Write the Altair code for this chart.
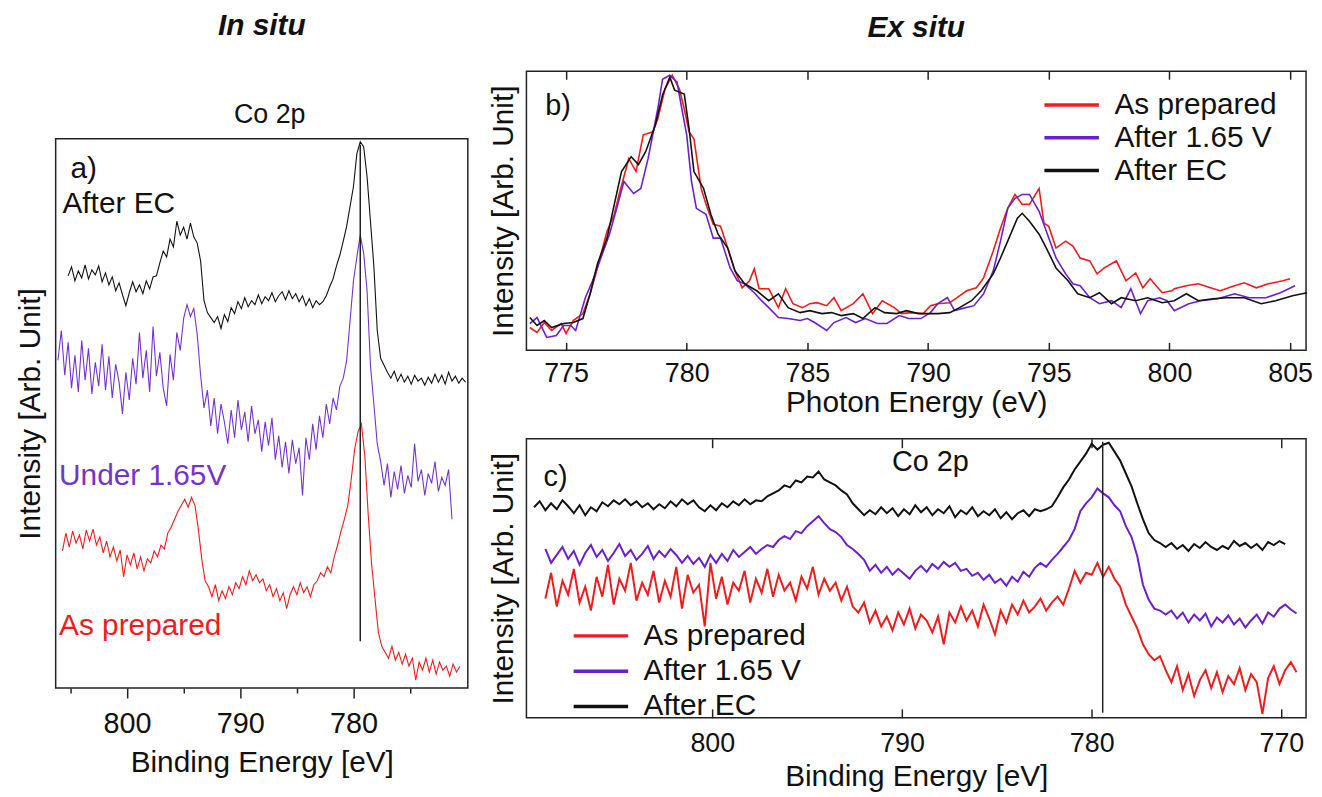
import altair as alt
import numpy as np
import pandas as pd

FONT = "Liberation Sans"
RED = "#f01c1c"
PURPLE = "#6a1fd0"
A_PURPLE = "#7434cc"
BLACK = "#111111"
FRAME = "#222222"

# ---------------- panel a : in situ, Co 2p (evenly sampled, 0.3 eV) ----------------
A_STEP = 0.3
A_SERIES = ["As prepared", "Under 1.65V", "After EC"]
A_COLORS = [RED, A_PURPLE, BLACK]
A_STARTS = [805.7, 806.1, 805.2]
A_RED = [13.8, 15.6, 14.2, 15.8, 14.6, 15.4, 14.0, 15.9, 14.8, 16.0,
         14.4, 15.2, 13.6, 14.8, 13.2, 14.2, 12.8, 13.9, 11.2, 13.4,
         12.4, 13.6, 12.0, 13.2, 11.8, 13.0, 12.6, 13.8, 13.2, 14.4,
         14.0, 15.6, 16.2, 17.0, 17.8, 18.4, 19.0, 18.2, 19.2, 18.4,
         16.0, 13.0, 10.8, 10.2, 9.2, 10.4, 8.8, 9.8, 9.0, 10.2,
         9.4, 10.6, 10.0, 11.2, 10.4, 11.8, 10.8, 11.4, 10.6, 11.0,
         9.8, 10.4, 9.2, 10.0, 8.8, 9.6, 8.0, 9.4, 10.2, 9.4,
         10.6, 9.6, 10.2, 9.2, 10.4, 10.8, 11.6, 11.2, 12.2, 11.6,
         13.2, 14.4, 15.8, 17.0, 18.4, 21.0, 24.0, 25.8, 26.6, 23.4,
         17.5, 12.5, 9.0, 5.6, 4.2, 3.6, 3.0, 4.2, 2.8, 3.6,
         2.4, 3.4, 2.2, 3.0, 0.8, 2.6, 1.8, 3.0, 1.6, 2.8,
         1.4, 2.6, 1.8, 2.2, 1.2, 2.4, 1.6, 2.2]
A_PURPLE_V = [33.0, 36.0, 31.5, 34.8, 30.2, 33.5, 29.8, 35.0, 31.0, 34.2,
              29.6, 32.8, 30.4, 34.6, 30.0, 33.4, 29.2, 32.6, 30.8, 27.6,
              31.8, 29.0, 33.2, 30.6, 35.8, 31.2, 34.0, 29.8, 36.4, 31.4,
              33.8, 30.2, 28.4, 33.6, 31.0, 35.8, 34.0, 37.2, 38.6, 37.4,
              38.2, 35.6, 31.5, 28.2, 30.0, 26.4, 29.2, 25.6, 28.6, 26.8,
              24.6, 28.0, 25.2, 29.0, 26.0, 27.8, 24.8, 28.4, 25.6, 27.0,
              23.8, 26.8, 24.4, 27.2, 23.0, 25.4, 22.2, 24.8, 21.6, 25.0,
              22.6, 24.2, 19.4, 25.2, 23.0, 26.6, 24.0, 27.4, 25.2, 28.6,
              26.6, 29.2, 28.0, 30.4, 31.2, 33.0, 37.0, 41.0, 43.4, 45.6,
              43.8, 40.0, 32.5, 28.6, 24.6, 22.8, 20.4, 22.6, 19.2, 21.8,
              20.0, 22.4, 19.6, 21.4, 20.2, 24.6, 20.8, 22.0, 19.4, 21.6,
              20.6, 22.8, 19.8, 21.2, 20.4, 22.0, 17.0]
A_BLACK = [41.5, 42.4, 41.0, 42.0, 41.3, 42.6, 41.2, 42.1, 41.6, 42.5,
           40.9, 41.8, 40.6, 41.4, 40.0, 40.8, 39.6, 38.5, 39.8, 40.9,
           39.9, 40.6, 39.7, 41.0, 40.2, 41.4, 41.5, 42.8, 44.0, 43.4,
           45.2, 44.4, 47.0, 45.6, 46.4, 45.2, 46.8, 45.4, 44.8, 43.0,
           39.0, 37.8, 37.3, 36.8, 37.4, 36.2, 37.6, 36.9, 38.3, 37.7,
           38.9, 38.2, 39.3, 38.4, 39.0, 38.6, 39.6, 38.7, 39.4, 39.0,
           39.8, 38.9, 39.5, 39.9, 39.1, 40.0, 39.2, 39.7, 38.9, 39.5,
           38.5, 39.2, 38.3, 39.0, 38.6, 38.9, 39.5, 40.4, 41.2, 42.5,
           43.6, 45.0, 46.5, 48.5, 50.5, 53.8, 55.0, 54.5, 51.5, 47.0,
           42.5, 36.0, 33.2, 32.5, 31.8, 31.2, 31.9, 30.9, 31.6, 30.8,
           31.4, 30.6, 31.5, 30.9, 31.2, 30.5, 31.3, 30.7, 31.6, 30.8,
           31.5, 30.6, 31.8, 30.9, 31.4, 30.7, 31.2, 30.8]
A_XDOMAIN = [769.9, 806.3]
A_YDOMAIN = [0, 55.3]
A_MAJOR = [800, 790, 780]
A_MINOR = [805, 795, 785, 775]
A_REF_E = 779.4
A_REF_I = [4.7, 54.7]
A_TEXT = ["a)", "After EC", "Under 1.65V", "As prepared"]
A_TEXT_E = [805.0, 805.7, 806.0, 806.0]
A_TEXT_I = [52.3, 48.7, 21.3, 6.2]
A_TEXT_C = [BLACK, BLACK, A_PURPLE, RED]

# ---------------- panel b : ex situ XAS ----------------
SERIES = ["As prepared", "After 1.65 V", "After EC"]
COLORS = [RED, PURPLE, BLACK]
B_RED_E = [773.5, 773.8, 774.1, 774.4, 774.8, 775.0, 775.3, 775.7, 776.0, 776.3,
           776.7, 777.0, 777.2, 777.6, 777.9, 778.2, 778.6, 778.8, 779.1, 779.4,
           779.7, 779.9, 780.1, 780.3, 780.6, 780.8, 781.1, 781.4, 781.7, 782.0,
           782.3, 782.6, 782.8, 783.0, 783.4, 783.8, 784.1, 784.4, 784.8, 785.1,
           785.4, 785.8, 786.1, 786.4, 786.9, 787.3, 787.7, 788.1, 788.6, 788.9,
           789.3, 789.8, 790.1, 790.4, 790.9, 791.2, 791.6, 792.0, 792.3, 792.7,
           793.0, 793.3, 793.6, 793.9, 794.2, 794.6, 794.8, 795.0, 795.3, 795.7,
           796.0, 796.3, 796.7, 797.0, 797.3, 797.8, 798.2, 798.6, 798.9, 799.2,
           799.7, 800.1, 800.2, 800.7, 801.2, 801.7, 802.1, 802.7, 803.1, 803.6,
           804.1, 804.7, 805.0]
B_RED_I = [2.3, 1.8, 2.8, 2.0, 2.7, 1.7, 3.0, 3.7, 5.7, 8.3,
           12.0, 13.7, 15.7, 19.3, 18.0, 21.7, 22.0, 23.3, 26.3, 27.7,
           26.3, 24.3, 22.0, 21.3, 16.3, 14.7, 12.7, 12.5, 10.3, 8.0,
           6.3, 7.0, 8.2, 6.2, 6.2, 4.3, 6.2, 4.7, 4.3, 4.7,
           4.8, 4.5, 5.3, 4.0, 4.7, 5.7, 3.7, 5.0, 4.3, 3.7,
           3.8, 3.7, 4.5, 4.7, 4.8, 5.3, 6.0, 6.3, 7.3, 10.0,
           12.3, 14.3, 15.7, 14.7, 14.7, 16.3, 12.8, 12.5, 10.3, 11.0,
           10.5, 9.3, 9.0, 7.7, 8.3, 9.0, 7.0, 7.8, 6.3, 7.2,
           5.8, 6.0, 6.2, 6.5, 6.7, 6.3, 6.0, 6.5, 6.8, 6.3,
           6.7, 7.0, 7.2]
B_PURPLE_E = [773.5, 773.8, 774.2, 774.6, 774.9, 775.2, 775.4, 775.8, 776.1, 776.4,
              776.8, 777.1, 777.4, 777.8, 778.1, 778.4, 778.8, 779.0, 779.3, 779.6,
              779.8, 780.0, 780.2, 780.4, 780.8, 781.1, 781.4, 781.8, 782.1, 782.4,
              782.8, 783.1, 783.4, 783.8, 784.2, 784.7, 785.0, 785.3, 785.8, 786.1,
              786.6, 787.0, 787.4, 787.9, 788.3, 788.8, 789.2, 789.7, 790.1, 790.4,
              790.8, 791.1, 791.4, 791.9, 792.3, 792.7, 793.0, 793.3, 793.6, 793.9,
              794.2, 794.6, 794.9, 795.3, 795.7, 796.0, 796.3, 796.7, 797.1, 797.6,
              798.0, 798.4, 798.8, 799.1, 799.6, 799.9, 800.2, 800.8, 801.3, 802.0,
              802.7, 803.3, 804.0, 804.6, 805.2]
B_PURPLE_I = [2.7, 3.3, 1.3, 1.5, 2.5, 2.5, 2.0, 5.3, 7.0, 9.0,
              11.7, 14.3, 17.0, 15.8, 16.3, 19.3, 24.3, 27.3, 27.7, 27.0,
              24.3, 21.7, 17.0, 14.3, 13.7, 11.3, 11.3, 8.3, 7.0, 6.7,
              5.8, 5.0, 4.3, 3.3, 3.2, 3.0, 3.2, 2.8, 2.0, 2.8,
              3.3, 2.8, 3.2, 2.7, 2.7, 3.5, 3.2, 3.2, 3.8, 4.7,
              5.3, 4.0, 4.2, 4.5, 5.7, 8.0, 11.0, 14.3, 15.3, 15.7,
              15.7, 14.0, 12.0, 9.3, 7.7, 6.7, 6.5, 5.3, 4.7, 5.0,
              4.3, 6.2, 3.7, 5.0, 5.3, 5.0, 4.0, 4.7, 5.0, 5.2,
              5.7, 5.3, 5.3, 5.8, 6.5]
B_BLACK_E = [773.5, 773.8, 774.1, 774.4, 774.9, 775.3, 775.7, 776.0, 776.3, 776.7,
             777.0, 777.3, 777.7, 778.0, 778.3, 778.7, 779.0, 779.3, 779.5, 779.7,
             779.9, 780.1, 780.3, 780.7, 781.0, 781.3, 781.7, 782.0, 782.4, 782.9,
             783.4, 783.8, 784.2, 784.7, 785.1, 785.6, 786.0, 786.4, 786.9, 787.3,
             787.8, 788.2, 788.7, 789.1, 789.6, 790.0, 790.4, 790.9, 791.3, 791.8,
             792.2, 792.7, 793.0, 793.3, 793.7, 793.9, 794.2, 794.6, 794.9, 795.3,
             795.8, 796.2, 796.7, 797.1, 797.6, 798.0, 798.6, 799.1, 799.7, 800.2,
             800.7, 801.2, 801.8, 802.4, 803.1, 803.8, 804.4, 805.1, 805.7]
B_BLACK_I = [3.3, 2.5, 3.0, 2.3, 2.7, 2.8, 3.2, 5.7, 8.7, 11.3,
             14.7, 18.0, 19.5, 18.7, 20.0, 22.7, 25.7, 27.5, 26.2, 26.0,
             25.8, 22.3, 18.0, 16.3, 13.7, 11.7, 10.3, 8.0, 6.7, 6.0,
             5.0, 5.7, 4.3, 3.8, 4.0, 3.7, 3.8, 3.5, 3.7, 3.2,
             4.3, 3.8, 3.7, 4.0, 3.7, 3.7, 3.7, 3.8, 4.3, 5.0,
             6.0, 7.7, 9.3, 11.0, 13.3, 13.8, 13.0, 11.7, 10.3, 8.3,
             7.0, 5.7, 5.3, 5.8, 4.7, 5.3, 5.0, 5.3, 4.8, 5.0,
             5.7, 5.0, 5.2, 5.3, 5.3, 4.7, 5.0, 5.5, 5.8]
B_XDOMAIN = [773.36, 805.66]
B_YDOMAIN = [0, 28.1]
B_TICKS = [775, 780, 785, 790, 795, 800, 805]
B_TEXT_E, B_TEXT_I = 774.14, 24.6

# ---------------- panel c : ex situ XPS, Co 2p (evenly sampled, 0.3 eV) ----------------
C_STEP = 0.3
C_STARTS = [808.8, 808.8, 809.4]
C_RED = [12.0, 14.6, 11.2, 13.8, 12.4, 15.0, 11.6, 13.2, 10.8, 14.2,
         12.2, 15.4, 11.4, 14.0, 12.8, 15.6, 11.8, 13.6, 12.4, 14.8,
         11.6, 13.8, 12.2, 15.2, 11.0, 14.4, 12.6, 13.4, 9.2, 15.6,
         12.0, 14.2, 11.4, 13.6, 12.8, 14.8, 11.6, 14.0, 12.6, 15.0,
         12.2, 14.4, 12.8, 13.6, 11.8, 14.2, 13.0, 15.2, 12.4, 14.0,
         12.8, 13.6, 11.8, 13.2, 11.2, 10.6, 11.6, 9.6, 10.8, 9.2,
         10.2, 8.8, 10.6, 9.4, 11.0, 9.0, 10.4, 9.8, 8.6, 10.2,
         7.4, 10.6, 9.6, 11.2, 9.8, 10.8, 9.2, 11.4, 10.0, 8.4,
         10.8, 9.6, 11.4, 10.4, 11.8, 10.6, 11.2, 12.0, 10.8, 11.6,
         12.2, 11.4, 13.0, 14.8, 13.6, 14.6, 14.4, 15.6, 14.2, 15.2,
         14.0, 13.2, 11.4, 10.2, 9.0, 7.4, 6.4, 5.8, 6.2, 4.8,
         3.6, 5.2, 2.8, 4.4, 2.2, 3.8, 4.8, 3.0, 4.6, 2.6,
         4.2, 3.4, 5.0, 2.8, 4.4, 3.6, 0.4, 4.0, 5.2, 3.4,
         4.8, 5.6, 4.6]
C_PURPLE = [17.0, 15.6, 16.4, 17.2, 16.0, 16.8, 15.4, 16.6, 17.4, 16.2,
            16.9, 15.8, 16.6, 17.5, 16.3, 16.9, 15.9, 16.5, 17.3, 16.0,
            16.8, 16.2, 17.0, 16.4, 15.6, 16.3, 15.5, 16.1, 15.2, 16.4,
            15.6, 16.5, 15.8, 16.9, 16.2, 16.7, 17.2, 16.5, 17.0, 17.4,
            17.2, 17.9, 18.3, 18.0, 18.8, 18.6, 19.3, 19.8, 20.3, 19.6,
            19.0, 18.7, 18.2, 17.4, 17.0, 16.5, 15.9, 14.8, 15.4, 14.6,
            15.2, 14.4, 15.0, 14.5, 14.0, 14.8, 15.3, 14.7, 15.5, 15.0,
            15.7, 15.2, 15.6, 14.8, 15.0, 14.3, 14.6, 13.9, 14.4, 13.6,
            14.0, 13.3, 14.2, 13.7, 14.7, 14.2, 15.1, 15.6, 15.2, 15.9,
            16.5, 17.2, 17.9, 19.0, 20.8, 21.6, 22.2, 23.1, 22.6, 22.2,
            21.4, 20.8, 19.3, 18.2, 16.3, 13.4, 11.9, 11.0, 10.8, 10.4,
            10.8, 10.0, 10.6, 9.6, 10.4, 9.8, 10.5, 9.2, 10.1, 9.6,
            10.3, 9.4, 10.0, 9.1, 9.8, 10.4, 9.5, 10.6, 10.2, 11.0,
            11.4, 10.9, 10.5]
C_BLACK = [21.2, 21.8, 20.9, 21.6, 21.0, 21.9, 21.3, 20.6, 21.4, 20.4,
           21.2, 20.8, 21.7, 21.3, 21.9, 21.5, 22.0, 21.4, 21.8, 21.2,
           21.6, 21.0, 21.5, 21.1, 21.8, 21.3, 22.0, 21.5, 21.9, 21.2,
           20.8, 21.4, 20.9, 21.6, 21.2, 21.8, 21.4, 22.0, 21.5, 21.9,
           21.8, 22.3, 22.6, 22.9, 23.4, 23.2, 23.9, 23.7, 24.3, 24.2,
           24.8, 24.0, 23.7, 23.4, 22.9, 22.5, 21.6, 21.0, 20.4, 20.9,
           20.5, 21.2, 20.6, 21.1, 20.3, 21.0, 20.5, 21.4, 20.7, 21.2,
           20.4, 21.0, 20.6, 21.3, 20.2, 20.9, 20.5, 21.2, 20.3, 20.8,
           20.4, 21.0, 20.1, 20.7, 20.0, 20.6, 20.9, 20.3, 21.0, 20.8,
           21.0, 21.3, 22.2, 23.2, 24.0, 25.0, 25.8, 26.6, 27.6, 27.0,
           27.5, 27.7, 26.8, 25.9, 24.6, 23.3, 21.6, 20.0, 18.6, 17.9,
           17.6, 17.2, 17.6, 17.0, 17.4, 16.8, 17.5, 17.1, 17.7, 17.2,
           16.9, 17.3, 17.0, 17.8, 17.3, 17.6, 17.1, 17.5, 16.9, 17.7,
           17.4, 17.8, 17.5]
C_XDOMAIN = [768.7, 809.8]
C_YDOMAIN = [0, 28.1]
C_TICKS = [800, 790, 780, 770]
C_REF_E = 779.42
C_REF_I = [0.5, 27.8]
C_TEXT = ["c)", "Co 2p"]
C_TEXT_E = [808.9, 788.5]
C_TEXT_I = [24.2, 25.8]


def spaced(start, step, vals, name):
    e = np.round(start - step * np.arange(len(vals)), 2)
    return pd.DataFrame({"E": e, "I": vals, "S": name})


def y_axis(pad):
    return alt.Axis(title="Intensity [Arb. Unit]", labels=False, ticks=False, domain=False,
                    titleFontSize=30, titlePadding=pad)


def label(df_e, df_i, txt, scx, scy, yax, size, color, align="left"):
    d = pd.DataFrame({"E": [df_e], "I": [df_i], "T": [txt]})
    return alt.Chart(d).mark_text(align=align, baseline="middle", fontSize=size,
                                  font=FONT, color=color).encode(
        x=alt.X("E:Q", scale=scx, axis=None),
        y=alt.Y("I:Q", scale=scy, axis=yax),
        text="T:N")


def ref_line(e, i_pair, scx, scy, yax):
    d = pd.DataFrame({"E": [e], "I": [i_pair[0]], "I2": [i_pair[1]]})
    return alt.Chart(d).mark_rule(color=FRAME, strokeWidth=1.5).encode(
        x=alt.X("E:Q", scale=scx, axis=None), y=alt.Y("I:Q", scale=scy, axis=yax), y2="I2:Q")


def hidden_axis_layer(values, scx, **axis_kw):
    return alt.Chart(pd.DataFrame({"E": values})).mark_point(opacity=0).encode(
        x=alt.X("E:Q", scale=scx, axis=alt.Axis(values=values, labels=False,
                                                domain=False, title=None, **axis_kw)))


LEG = dict(title=None, orient="none", symbolType="M-1.96,0H1.96", symbolSize=784,
           symbolStrokeWidth=3.5, labelFontSize=30, labelOffset=27, rowPadding=2,
           padding=0, labelFont=FONT, labelLimit=400)
BIG_TITLE = dict(fontSize=30, fontWeight="bold", fontStyle="italic", anchor="middle",
                 frame="group", offset=28)

# ---- panel a
YA_AX = y_axis(10)
a_df = pd.concat([spaced(s, A_STEP, v, n) for s, v, n in
                  zip(A_STARTS, [A_RED, A_PURPLE_V, A_BLACK], A_SERIES)], ignore_index=True)
xa = alt.Scale(domain=A_XDOMAIN, reverse=True, nice=False, zero=False)
ya = alt.Scale(domain=A_YDOMAIN, nice=False, zero=False)
a_lines = alt.Chart(a_df).mark_line(strokeWidth=1.1).encode(
    x=alt.X("E:Q", scale=xa, axis=alt.Axis(values=A_MAJOR, format="d", orient="bottom", tickSize=10,
                                           domain=False, labelFontSize=29, labelPadding=12,
                                           title="Binding Energy [eV]", titleFontSize=30,
                                           titlePadding=9)),
    y=alt.Y("I:Q", scale=ya, axis=YA_AX),
    color=alt.Color("S:N", scale=alt.Scale(domain=A_SERIES, range=A_COLORS), legend=None),
)
a_minor = hidden_axis_layer(A_MINOR, xa, orient="bottom", tickSize=5)
a_ref = ref_line(A_REF_E, A_REF_I, xa, ya, YA_AX)
a_texts = [label(e, i, t, xa, ya, YA_AX, 30, c)
           for e, i, t, c in zip(A_TEXT_E, A_TEXT_I, A_TEXT, A_TEXT_C)]
panel_a = alt.layer(a_lines, a_minor, a_ref, *a_texts).resolve_axis(x="independent").properties(
    width=415, height=553,
    title=alt.Title("Co 2p", fontSize=27, fontWeight="normal", anchor="middle", frame="group",
                    offset=10, dx=8))

# ---- panel b
YB_AX = y_axis(8)
b_df = pd.concat([pd.DataFrame({"E": e, "I": i, "S": n}) for e, i, n in
                  zip([B_RED_E, B_PURPLE_E, B_BLACK_E], [B_RED_I, B_PURPLE_I, B_BLACK_I], SERIES)],
                 ignore_index=True)
xb = alt.Scale(domain=B_XDOMAIN, nice=False, zero=False)
yb = alt.Scale(domain=B_YDOMAIN, nice=False, zero=False)
b_lines = alt.Chart(b_df).mark_line(strokeWidth=1.6).encode(
    x=alt.X("E:Q", scale=xb, axis=alt.Axis(values=B_TICKS, format="d", orient="bottom", offset=-8,
                                           tickSize=8, domain=False, labelFontSize=27,
                                           labelPadding=10, title="Photon Energy (eV)",
                                           titleFontSize=30, titlePadding=2)),
    y=alt.Y("I:Q", scale=yb, axis=YB_AX),
    color=alt.Color("S:N", scale=alt.Scale(domain=SERIES, range=COLORS), sort=SERIES,
                    legend=alt.Legend(legendX=533, legendY=18, **LEG)),
)
b_top = hidden_axis_layer(B_TICKS, xb, orient="top", offset=-8, tickSize=8)
b_text = label(B_TEXT_E, B_TEXT_I, "b)", xb, yb, YB_AX, 29, BLACK)
panel_b = alt.layer(b_lines, b_top, b_text).resolve_axis(x="independent").properties(
    width=785, height=281, title=alt.Title("Ex situ", **BIG_TITLE))

# ---- panel c
YC_AX = y_axis(8)
c_df = pd.concat([spaced(s, C_STEP, v, n) for s, v, n in
                  zip(C_STARTS, [C_RED, C_PURPLE, C_BLACK], SERIES)], ignore_index=True)
xc = alt.Scale(domain=C_XDOMAIN, reverse=True, nice=False, zero=False)
yc = alt.Scale(domain=C_YDOMAIN, nice=False, zero=False)
c_lines = alt.Chart(c_df).mark_line(strokeWidth=2.0).encode(
    x=alt.X("E:Q", scale=xc, axis=alt.Axis(values=C_TICKS, format="d", orient="bottom", offset=-9,
                                           tickSize=9, domain=False, labelFontSize=27,
                                           labelPadding=13, title="Binding Energy [eV]",
                                           titleFontSize=30, titlePadding=5)),
    y=alt.Y("I:Q", scale=yc, axis=YC_AX),
    color=alt.Color("S:N", scale=alt.Scale(domain=SERIES, range=COLORS), sort=SERIES,
                    legend=alt.Legend(legendX=59, legendY=182.5, **dict(LEG, rowPadding=4.5))),
)
c_top = hidden_axis_layer(C_TICKS, xc, orient="top", offset=-9, tickSize=9)
c_ref = ref_line(C_REF_E, C_REF_I, xc, yc, YC_AX)
c_texts = [label(C_TEXT_E[0], C_TEXT_I[0], C_TEXT[0], xc, yc, YC_AX, 29, BLACK),
           label(C_TEXT_E[1], C_TEXT_I[1], C_TEXT[1], xc, yc, YC_AX, 29, BLACK, align="center")]
panel_c = alt.layer(c_lines, c_top, c_ref, *c_texts).resolve_axis(x="independent").properties(
    width=785, height=281)

# ---- layout
spacer = alt.Chart(pd.DataFrame({"E": [0.0]})).mark_point(opacity=0).encode(
    x=alt.X("E:Q", axis=None), y=alt.Y("E:Q", axis=None)).properties(
    width=415, height=1, view=alt.ViewBackground(strokeOpacity=0),
    title=alt.Title("In situ", **BIG_TITLE))

left = alt.vconcat(spacer, panel_a, spacing=67, bounds="flush").resolve_scale(color="independent")
right = alt.vconcat(panel_b, panel_c, spacing=89, bounds="flush").resolve_scale(
    color="independent").resolve_legend(color="independent")

chart = alt.hconcat(left, right, spacing=19).resolve_scale(color="independent").properties(
    padding={"left": 7, "top": 0, "right": 0, "bottom": 0})

chart = chart.configure_view(stroke=FRAME, strokeWidth=1.5).configure_axis(
    grid=False, labelFont=FONT, titleFont=FONT, labelColor="#111111", titleColor="#111111",
    titleFontWeight="normal", tickColor=FRAME, tickWidth=1.5, labelFlush=False
).configure_legend(labelColor="#111111").configure_title(font=FONT, color="#111111")

chart.save("out.html", embed_options={"renderer": "svg", "actions": False})
